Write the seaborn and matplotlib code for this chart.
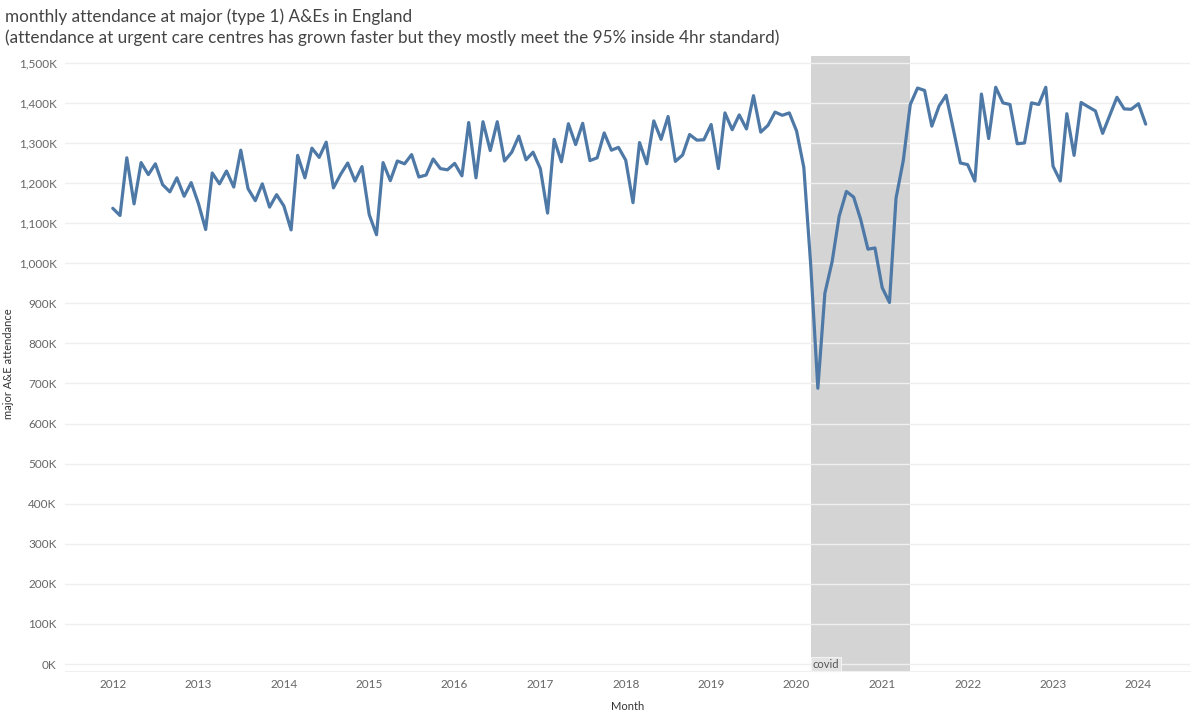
import numpy as np
import pandas as pd
import seaborn as sns
import matplotlib.pyplot as plt
import matplotlib.ticker as mticker
from matplotlib import font_manager

# monthly type 1 A&E attendances (thousands), Jan 2012 - Feb 2024
att_2012 = [1137, 1119, 1263, 1148, 1251, 1221, 1248, 1196, 1178, 1213, 1167, 1201]
att_2013 = [1149, 1084, 1225, 1198, 1230, 1190, 1282, 1186, 1156, 1198, 1140, 1171]
att_2014 = [1143, 1083, 1269, 1213, 1287, 1264, 1302, 1188, 1222, 1250, 1205, 1241]
att_2015 = [1121, 1071, 1251, 1206, 1255, 1248, 1271, 1215, 1220, 1260, 1236, 1233]
att_2016 = [1249, 1218, 1351, 1213, 1353, 1281, 1353, 1255, 1277, 1317, 1258, 1277]
att_2017 = [1236, 1125, 1309, 1253, 1348, 1296, 1349, 1256, 1263, 1325, 1282, 1289]
att_2018 = [1257, 1151, 1301, 1248, 1355, 1309, 1366, 1254, 1270, 1321, 1307, 1308]
att_2019 = [1346, 1236, 1375, 1333, 1370, 1335, 1418, 1327, 1344, 1377, 1369, 1375]
att_2020 = [1330, 1239, 1000, 688, 925, 1004, 1117, 1179, 1165, 1109, 1035, 1038]
att_2021 = [939, 902, 1162, 1256, 1396, 1437, 1431, 1342, 1392, 1419, 1334, 1250]
att_2022 = [1246, 1205, 1422, 1311, 1439, 1400, 1396, 1298, 1300, 1400, 1396, 1439]
att_2023 = [1242, 1205, 1373, 1269, 1401, 1390, 1380, 1324, 1370, 1414, 1385, 1384]
att_2024 = [1398, 1347]

first_month = "2012-01-01"
last_month = "2024-02-01"
covid_start = "2020-03-01"
covid_end = "2021-05-01"
year_ticks = list(range(2012, 2025))

values = (att_2012 + att_2013 + att_2014 + att_2015 + att_2016 + att_2017 + att_2018
          + att_2019 + att_2020 + att_2021 + att_2022 + att_2023 + att_2024)
months = pd.date_range(first_month, last_month, freq="MS")
df = pd.DataFrame({"Month": months, "attendance": np.array(values) * 1000})

sns.set_style("white")
installed = {f.name for f in font_manager.fontManager.ttflist}
fams = [f for f in ["Lato", "DejaVu Sans"] if f in installed]
plt.rcParams["font.family"] = fams

fig = plt.figure(figsize=(12, 7.15), dpi=100)
ax = fig.add_axes([0.054, 0.0615, 0.938, 0.8602])

# covid shading
ax.axvspan(pd.Timestamp(covid_start), pd.Timestamp(covid_end), color="#d4d4d4", zorder=0.3, lw=0)
ax.text(pd.Timestamp(covid_start) + pd.Timedelta(days=8), 0, "covid", fontsize=8, color="#555555",
        va="center", ha="left", zorder=3,
        bbox=dict(boxstyle="square,pad=0.15", fc="#e4e4e4", ec="#f2f2f2", lw=0.8))

sns.lineplot(data=df, x="Month", y="attendance", color="#4e79a7", linewidth=2.3, ax=ax, zorder=2)

ax.set_xlim(pd.Timestamp("2011-06-10"), pd.Timestamp("2024-08-10"))
ax.set_ylim(-17500, 1517000)
ax.yaxis.set_major_locator(mticker.MultipleLocator(100000))
ax.yaxis.set_major_formatter(mticker.FuncFormatter(lambda v, p: f"{v/1000:,.0f}K"))
ax.set_xticks([pd.Timestamp(f"{y}-01-01") for y in year_ticks])
ax.set_xticklabels([str(y) for y in year_ticks])

ax.set_axisbelow(True)
ax.grid(axis="y", color="#efefef", linewidth=1, zorder=0.5)
ax.grid(axis="x", visible=False)
for s in ["top", "right", "left"]:
    ax.spines[s].set_visible(False)
ax.spines["bottom"].set_color("#f0f0f0")
ax.tick_params(axis="both", length=0, labelsize=8.5, labelcolor="#666666", pad=6)

ax.set_xlabel("Month", fontsize=8, color="#333333", labelpad=8)
ax.set_ylabel("major A&E attendance", fontsize=8, color="#333333", labelpad=3)

fig.text(0.004, 0.976, "monthly attendance at major (type 1) A&Es in England",
         fontsize=12.3, color="#444444", va="center", ha="left")
fig.text(0.004, 0.947, "(attendance at urgent care centres has grown faster but they mostly meet the 95% inside 4hr standard)",
         fontsize=12.3, color="#444444", va="center", ha="left")

fig.savefig("out.png", dpi=100)
